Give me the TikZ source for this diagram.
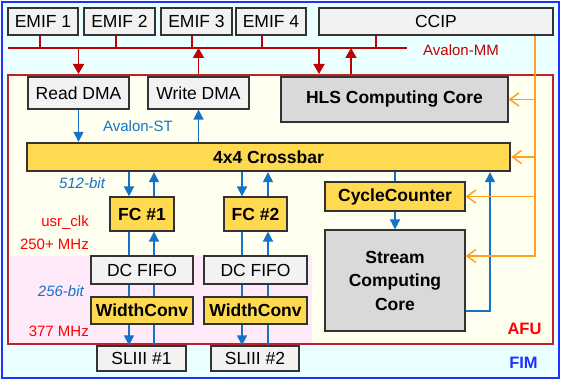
\documentclass[tikz,border=0pt]{standalone}
\usepackage{fontspec}
\setmainfont{Liberation Sans}
\usetikzlibrary{arrows.meta}
\definecolor{fimfill}{RGB}{234,255,255}
\definecolor{fimblue}{RGB}{30,50,255}
\definecolor{afufill}{RGB}{255,255,240}
\definecolor{afured}{RGB}{192,32,40}
\definecolor{pinkfill}{RGB}{255,234,250}
\definecolor{boxgray}{RGB}{242,242,242}
\definecolor{coregray}{RGB}{217,217,217}
\definecolor{ygold}{RGB}{255,217,79}
\definecolor{mmred}{RGB}{192,0,0}
\definecolor{stblue}{RGB}{20,115,200}
\definecolor{ccorange}{RGB}{255,160,30}

\begin{document}
\begin{tikzpicture}[x=1pt, y=-1pt,
  box/.style={draw=black!80, line width=1.2pt, fill=boxgray, inner sep=0pt, font=\fontsize{17.5}{21}\selectfont},
  emif/.style={box, minimum width=70, minimum height=27},
  dma/.style={box, minimum width=101, minimum height=32},
  core/.style={box, fill=coregray, align=center, font=\bfseries\fontsize{17.5}{23.5}\selectfont},
  ybox/.style={box, fill=ygold, font=\bfseries\fontsize{17.5}{21}\selectfont},
  mm/.style={draw=mmred, line width=1.8pt, >={Triangle[width=11pt,length=10pt]}},
  st/.style={draw=stblue, line width=1.6pt, >={Triangle[width=10pt,length=10pt]}},
  cc/.style={draw=ccorange, line width=1.5pt, >={Straight Barb[width=13pt,length=9pt]}},
  lbl/.style={inner sep=0pt, font=\fontsize{15}{18}\selectfont},
  ilbl/.style={inner sep=0pt, font=\itshape\fontsize{15}{18}\selectfont},
  blbl/.style={inner sep=0pt, font=\bfseries\fontsize{16.5}{20}\selectfont},
]
\useasboundingbox (0,0) rectangle (562,382);

\node (fim) at (280.5,190) [draw=fimblue, line width=1.8pt, fill=fimfill, minimum width=557, minimum height=376] {};
\node (afu) at (280.5,209.5) [draw=afured, line width=2.6pt, fill=afufill, minimum width=545, minimum height=269] {};
\fill[pinkfill] (9.6,256) rectangle (312,342.7);

\node[emif] (emif1) at (43,21.5) {EMIF 1};
\node[emif, minimum width=71] (emif2) at (119.5,21.5) {EMIF 2};
\node[emif, minimum width=71] (emif3) at (196.5,21.5) {EMIF 3};
\node[emif] (emif4) at (271,21.5) {EMIF 4};
\node[emif, minimum width=234] (ccip) at (436,21.5) {CCIP};

\node[dma] (rdma) at (78.5,93) {Read DMA};
\node[dma] (wdma) at (198.5,93) {Write DMA};
\node[core, minimum width=227, minimum height=45] (hls) at (394.5,99.5) {HLS Computing Core};
\node[ybox, line width=2.4pt, minimum width=483, minimum height=28] (xbar) at (268.5,157) {4x4 Crossbar};

\node[ybox, minimum width=64, minimum height=34] (fc1) at (142,214) {FC \#1};
\node[ybox, minimum width=63, minimum height=34] (fc2) at (255.5,214) {FC \#2};
\node[box, minimum width=89, minimum height=25] (sl1) at (141.5,358.5) {SLIII \#1};
\node[box, minimum width=88, minimum height=25] (sl2) at (255,358.5) {SLIII \#2};

\draw[st,->] ([xshift=-13]fc1.south) -- ([xshift=-13]fc1.south |- afu.south);
\draw[st,->] ([xshift=12]fc1.south |- sl1.north) -- ([xshift=12]fc1.south);
\draw[st,->] ([xshift=-13.5]fc2.south) -- ([xshift=-13.5]fc2.south |- afu.south);
\draw[st,->] ([xshift=12.5]fc2.south |- sl2.north) -- ([xshift=12.5]fc2.south);

\node[box, minimum width=102, minimum height=28] (fifo1) at (142,270) {DC FIFO};
\node[box, minimum width=103, minimum height=28] (fifo2) at (255.5,270) {DC FIFO};
\node[ybox, minimum width=102, minimum height=27] (wc1) at (142,310.5) {WidthConv};
\node[ybox, minimum width=103, minimum height=27] (wc2) at (255.5,310.5) {WidthConv};

\node[ybox, minimum width=140, minimum height=29] (cyc) at (395,196.5) {CycleCounter};
\node[core, minimum width=140, minimum height=101] (scc) at (395,280.5) {Stream\\Computing\\Core};

\coordinate (busl) at (8,48);
\coordinate (busr) at (407,48);
\coordinate (hlsin) at (319,74);
\coordinate (hlsout) at (351,74);
\coordinate (sccout) at (490,311);
\coordinate (cctap) at (535,256);

\draw[mm] (busl) -- (busr);
\draw[mm] ([xshift=-3]emif1.south) -- ([xshift=-3]emif1.south |- busl);
\draw[mm] ([xshift=-3.5]emif2.south) -- ([xshift=-3.5]emif2.south |- busl);
\draw[mm] ([xshift=-4.5]emif3.south) -- ([xshift=-4.5]emif3.south |- busl);
\draw[mm] ([xshift=-9]emif4.south) -- ([xshift=-9]emif4.south |- busl);
\draw[mm] ([xshift=-60]ccip.south) -- ([xshift=-60]ccip.south |- busl);
\draw[mm,->] (rdma.north |- busl) -- (rdma.north |- hlsin);
\draw[mm,->] (wdma.north |- hlsin) -- (wdma.north |- busl);
\draw[mm,->] (hlsin |- busl) -- (hlsin);
\draw[mm,->] (hlsout) -- (hlsout |- busl);

\draw[st,->] (rdma.south) -- (rdma.south |- xbar.north);
\draw[st,->] (wdma.south |- xbar.north) -- (wdma.south);
\draw[st,->] ([xshift=-13]fc1.north |- xbar.south) -- ([xshift=-13]fc1.north);
\draw[st,->] ([xshift=12]fc1.north) -- ([xshift=12]fc1.north |- xbar.south);
\draw[st,->] ([xshift=-13.5]fc2.north |- xbar.south) -- ([xshift=-13.5]fc2.north);
\draw[st,->] ([xshift=12.5]fc2.north) -- ([xshift=12.5]fc2.north |- xbar.south);
\draw[st] (cyc.north |- xbar.south) -- (cyc.north);
\draw[st,->] (cyc.south) -- (scc.north);
\draw[st,->] (scc.east |- sccout) -- (sccout) -- (sccout |- xbar.south);

\draw[cc,->] ([xshift=99]ccip.south) -- (cctap) -- (scc.east |- cctap);
\draw[cc,->] (cctap |- hls.east) -- (hls.east);
\draw[cc,->] (cctap |- xbar.east) -- (xbar.east);
\draw[cc,->] (cctap |- cyc.east) -- (cyc.east);

\node[lbl, text=mmred] (mmlbl) at (461,50) {Avalon-MM};
\node[lbl, text=stblue] (stlbl) at (138,126) {Avalon-ST};
\node[ilbl, text=stblue] (w512) at (82,183) {512-bit};
\node[lbl, text=red, anchor=east] (clk) at (89,223) {usr\_clk};
\node[lbl, text=red, anchor=east] (f250) at (89,244) {250+ MHz};
\node[ilbl, text=stblue, anchor=east] (w256) at (84,291) {256-bit};
\node[lbl, text=red, anchor=east] (f377) at (89,331) {377 MHz};
\node[blbl, text=red] (afulbl) at (524.5,329) {AFU};
\node[blbl, text=fimblue] (fimlbl) at (523.5,363) {FIM};
\end{tikzpicture}
\end{document}
